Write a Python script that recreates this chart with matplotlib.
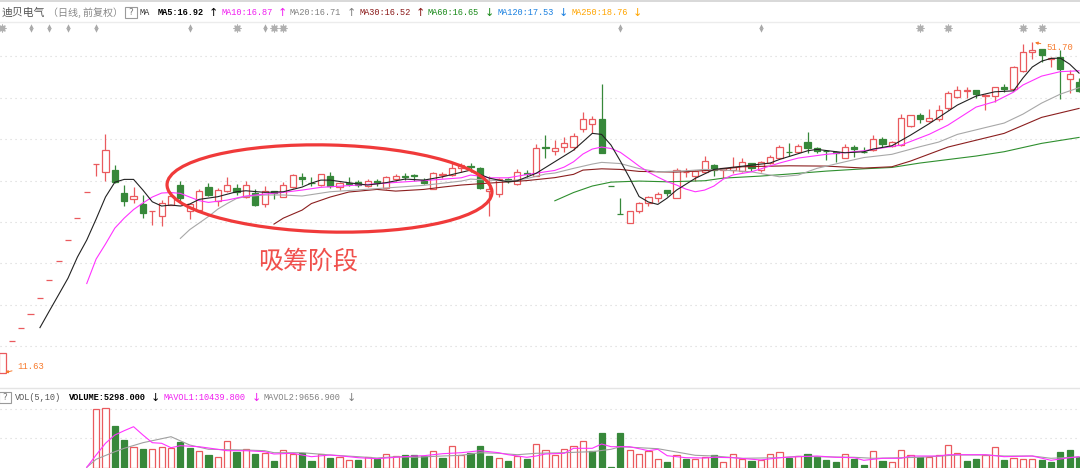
import numpy as np
import matplotlib
matplotlib.use('Agg')
from matplotlib import pyplot as plt
from matplotlib.patches import Ellipse, Rectangle
from matplotlib.transforms import blended_transform_factory

# Daily prices, first day on the left
opens = [11.63, 13.45, 14.27, 15.20, 16.31, 17.66, 19.24, 21.18, 23.42, 26.26,
         29.79, 28.74, 28.99, 26.18, 25.44, 24.88, 24.10, 23.57, 24.80, 27.10,
         24.13, 24.21, 26.89, 25.21, 26.45, 26.77, 25.67, 26.14, 24.91, 26.38,
         25.75, 26.86, 28.13, 27.44, 27.10, 28.30, 26.93, 27.34, 27.54, 27.02,
         27.63, 26.74, 27.92, 28.22, 28.43, 27.75, 26.69, 28.39, 28.35, 29.30,
         29.63, 29.26, 26.38, 26.06, 27.92, 27.26, 28.61, 28.30, 32.17, 31.59,
         32.21, 32.28, 34.92, 35.72, 36.54, 27.00, 23.80, 22.86, 24.13, 24.99,
         25.56, 26.49, 25.63, 28.77, 28.30, 28.74, 29.70, 29.03, 29.03, 28.94,
         29.93, 29.03, 29.93, 30.61, 31.50, 31.54, 32.89, 32.02, 31.63, 31.45,
         30.69, 32.26, 31.50, 31.77, 33.43, 32.40, 32.50, 35.40, 37.15, 36.21,
         36.49, 38.44, 40.40, 41.39, 41.58, 40.48, 40.59, 42.15, 41.76, 45.30,
         49.41, 50.01, 47.98, 48.38, 43.75, 43.11]
closes = [12.73, 13.45, 14.27, 15.20, 16.31, 17.66, 19.24, 21.18, 23.42, 26.26,
          29.79, 31.73, 27.47, 25.28, 25.86, 23.95, 24.10, 25.06, 25.83, 25.59,
          24.91, 26.45, 25.95, 26.57, 27.10, 26.26, 27.17, 24.80, 26.38, 26.14,
          27.10, 28.43, 27.88, 27.38, 28.52, 27.05, 27.42, 27.28, 27.14, 27.59,
          27.42, 28.17, 28.30, 28.17, 28.22, 27.42, 28.61, 28.48, 29.34, 29.66,
          29.43, 26.74, 26.65, 27.88, 27.67, 28.74, 28.55, 32.02, 32.10, 32.11,
          32.75, 33.89, 36.49, 36.49, 31.31, 26.97, 23.77, 24.16, 25.06, 25.75,
          26.10, 26.21, 29.03, 28.81, 28.94, 30.24, 29.03, 29.26, 29.47, 30.06,
          29.34, 30.14, 30.75, 32.26, 31.44, 32.40, 32.02, 31.67, 31.58, 31.40,
          32.21, 31.96, 31.45, 33.34, 32.60, 32.98, 36.65, 37.15, 36.49, 36.65,
          37.99, 41.03, 41.58, 41.58, 40.90, 40.77, 42.15, 41.88, 46.13, 49.48,
          49.78, 48.69, 48.03, 45.83, 44.69, 41.39]
highs = [12.73, 13.45, 14.27, 15.20, 16.31, 17.66, 19.24, 21.18, 23.42, 26.26,
         29.79, 34.10, 29.70, 27.14, 26.93, 25.95, 24.10, 25.36, 26.30, 27.67,
         24.91, 26.65, 27.34, 26.77, 28.10, 27.22, 27.67, 26.61, 27.02, 26.38,
         27.54, 28.52, 28.68, 28.10, 28.52, 28.74, 27.51, 28.10, 27.75, 27.84,
         27.92, 28.26, 28.48, 28.61, 28.52, 28.04, 28.77, 28.74, 29.93, 29.97,
         30.01, 29.43, 28.26, 28.00, 28.00, 29.12, 29.03, 32.65, 33.99, 33.23,
         33.64, 34.26, 37.76, 37.09, 42.78, 27.00, 25.56, 24.16, 25.14, 25.83,
         26.30, 26.53, 29.26, 29.34, 29.03, 30.93, 29.83, 29.30, 30.75, 30.61,
         29.97, 30.24, 31.07, 32.50, 32.75, 32.65, 34.50, 32.21, 31.77, 31.63,
         32.60, 32.50, 32.17, 33.95, 33.69, 33.08, 37.32, 37.20, 37.59, 38.22,
         38.92, 41.45, 42.46, 42.15, 41.63, 40.90, 42.30, 42.72, 46.40, 51.15,
         51.70, 50.05, 48.32, 49.85, 45.56, 43.95]
lows = [11.63, 13.45, 14.27, 15.20, 16.31, 17.66, 19.24, 21.18, 23.42, 26.26,
        28.30, 27.67, 27.38, 24.69, 24.99, 23.38, 22.66, 22.56, 24.80, 25.10,
        23.31, 24.03, 25.83, 24.72, 26.30, 25.95, 25.59, 24.69, 24.54, 25.51,
        25.71, 26.77, 27.14, 27.02, 27.02, 26.74, 26.53, 27.02, 26.86, 26.86,
        27.05, 26.65, 27.63, 27.75, 27.63, 27.26, 26.65, 28.04, 28.26, 28.81,
        28.81, 26.61, 23.63, 25.75, 27.34, 27.14, 28.10, 28.26, 30.69, 31.07,
        31.45, 31.77, 34.50, 34.26, 31.31, 26.97, 23.77, 22.86, 23.89, 24.72,
        25.17, 25.86, 25.59, 28.17, 27.67, 28.65, 28.30, 27.97, 28.68, 28.84,
        28.94, 28.81, 29.83, 30.51, 30.93, 31.49, 31.31, 31.31, 30.37, 30.14,
        30.65, 30.83, 31.40, 31.63, 32.26, 32.28, 32.35, 35.32, 35.94, 36.13,
        36.26, 38.04, 40.11, 40.11, 40.11, 38.04, 39.50, 41.32, 41.63, 45.16,
        47.88, 47.30, 46.25, 39.98, 41.03, 41.26]

# Moving averages, read at the days where the line bends
ma5_days = [4, 5, 6, 7, 8, 9, 10, 11, 12, 13, 14, 15, 16, 17, 18, 19, 20, 21, 23, 25, 26, 28, 30, 32, 33, 34,
            35, 37, 39, 41, 43, 45, 47, 50, 51, 52, 53, 54, 55, 57, 61, 63, 64, 65, 66, 67, 68, 69, 70, 71, 72,
            74, 76, 82, 83, 86, 87, 90, 92, 93, 95, 97, 99, 102, 104, 106, 108, 109, 110, 111, 112, 113, 114, 115]
ma5 = [14.27, 15.38, 16.56, 17.84, 19.61, 21.18, 23.28, 25.71, 27.49, 27.84, 27.84, 26.53, 25.17, 24.69, 24.80,
       24.69, 24.91, 25.44, 25.75, 26.33, 26.45, 26.26, 26.33, 26.89, 27.38, 27.75, 27.75, 27.42, 27.14, 27.44,
       27.88, 27.75, 28.17, 29.03, 28.48, 28.00, 27.75, 27.54, 27.67, 28.61, 31.77, 34.26, 34.10, 32.50, 30.24,
       28.00, 25.77, 25.14, 24.87, 25.59, 26.53, 27.97, 29.12, 29.97, 30.46, 31.67, 31.87, 31.39, 31.53, 31.92,
       32.40, 33.99, 35.80, 38.92, 40.53, 41.32, 41.50, 43.95, 46.20, 47.44, 48.03, 48.10, 46.80, 44.95]
ma10_days = [9, 10, 11, 12, 13, 14, 15, 16, 17, 18, 19, 20, 21, 22, 24, 26, 28, 30, 32, 34, 37, 41, 45, 49, 50,
             51, 52, 54, 56, 59, 60, 61, 62, 63, 64, 65, 66, 67, 68, 69, 70, 71, 72, 73, 74, 75, 76, 77, 78, 80,
             83, 85, 88, 92, 96, 99, 101, 104, 106, 108, 109, 111, 113, 115]
ma10 = [17.41, 19.44, 20.80, 22.35, 23.38, 24.30, 25.03, 25.71, 26.18, 26.24, 26.14, 25.71, 25.30, 25.10, 25.36,
        25.83, 26.06, 26.26, 26.53, 26.86, 27.07, 27.38, 27.69, 28.04, 28.39, 28.26, 28.04, 28.04, 28.45, 28.99,
        29.43, 30.14, 31.21, 31.92, 32.21, 32.00, 31.45, 30.51, 29.56, 28.77, 28.13, 27.56, 27.14, 26.65, 26.33,
        26.53, 27.02, 27.88, 28.39, 28.81, 29.97, 30.65, 31.17, 31.67, 32.50, 34.12, 35.56, 38.57, 39.53, 41.26,
        42.60, 44.35, 45.25, 45.42]
ma20_days = [19, 20, 21, 22, 23, 24, 25, 26, 28, 30, 32, 35, 40, 45, 49, 50, 52, 54, 56, 58, 59, 61, 63, 64, 66,
             68, 70, 73, 75, 77, 80, 83, 85, 87, 90, 92, 95, 98, 100, 102, 105, 107, 109, 111, 113, 115]
ma20 = [21.34, 22.20, 22.86, 23.55, 24.35, 24.97, 25.54, 25.77, 25.95, 25.95, 25.83, 26.33, 26.71, 27.10, 27.63,
        27.88, 27.75, 27.63, 27.94, 28.52, 28.65, 29.26, 29.83, 30.06, 29.90, 29.23, 28.81, 28.94, 29.12, 29.03,
        28.81, 28.17, 28.39, 29.26, 30.14, 30.72, 31.17, 32.26, 32.94, 34.10, 35.17, 35.89, 37.36, 39.27, 40.89,
        42.10]
ma30_days = [29, 30, 32, 33, 35, 37, 40, 42, 45, 47, 49, 52, 56, 59, 61, 62, 64, 66, 68, 72, 76, 79, 84, 88, 92,
             95, 97, 101, 107, 111, 115]
ma30 = [22.76, 23.38, 24.24, 24.97, 25.71, 26.30, 26.61, 26.41, 26.61, 26.89, 27.14, 27.38, 27.69, 28.06, 28.48,
        29.03, 29.20, 29.12, 28.86, 28.77, 29.03, 29.47, 29.60, 29.56, 29.30, 29.47, 30.24, 32.21, 34.26, 36.82,
        38.34]
ma60_days = [59, 61, 63, 65, 68, 71, 75, 77, 81, 84, 88, 92, 95, 98, 104, 107, 111, 115]
ma60 = [25.28, 26.24, 27.02, 27.50, 27.63, 27.54, 27.67, 28.00, 28.26, 28.52, 28.90, 29.20, 29.38, 29.97, 30.93,
        31.54, 32.75, 33.64]

# Volume in thousands of lots above the bottom edge of the panel, from day 10 on
vol_first_day = 10
volumes = [58.7, 60.0, 42.0, 28.0, 20.7, 19.0, 19.0, 21.3, 20.0, 26.3,
           20.0, 16.7, 13.0, 11.3, 26.7, 16.0, 18.7, 14.0, 15.0, 7.0,
           18.3, 14.0, 15.0, 7.0, 14.0, 9.7, 10.7, 8.0, 8.0, 11.3,
           9.0, 13.7, 12.0, 12.7, 12.7, 12.3, 17.3, 10.3, 21.7, 12.7,
           15.0, 22.3, 12.0, 10.3, 7.0, 12.0, 8.7, 23.7, 18.3, 13.3,
           19.0, 22.3, 26.7, 17.3, 35.0, 1.0, 35.0, 18.3, 13.7, 17.3,
           9.3, 6.0, 13.3, 8.7, 8.7, 11.3, 12.7, 5.7, 13.7, 8.7,
           7.0, 8.0, 13.7, 15.7, 10.0, 12.0, 14.0, 11.0, 8.0, 6.0,
           13.7, 9.3, 3.3, 16.7, 7.0, 5.7, 18.3, 12.7, 10.7, 10.7,
           12.7, 22.7, 14.7, 7.0, 8.7, 13.0, 20.7, 8.0, 9.7, 8.7,
           8.7, 8.0, 6.0, 15.7, 18.3, 10.7]
vol_down_days = [12, 13, 15, 19, 20, 22, 25, 27, 29, 32, 33, 35, 38, 40, 43, 44, 45, 47, 50, 51, 52, 54, 56, 63,
                 64, 65, 66, 71, 73, 76, 80, 84, 86, 87, 88, 89, 91, 92, 94, 98, 103, 104, 107, 111, 112, 113,
                 114, 115]
mavol1_days = [9, 10, 11, 12, 13, 14, 15, 16, 17, 18, 19, 21, 23, 24, 26, 28, 29, 31, 33, 35, 37, 38, 40, 42, 44,
               45, 47, 49, 51, 53, 54, 56, 57, 58, 60, 61, 63, 64, 65, 67, 69, 70, 71, 73, 75, 76, 78, 81, 83, 85,
               87, 89, 91, 92, 94, 96, 97, 100, 101, 104, 105, 107, 110, 112, 114, 115]
mavol1 = [0.7, 13.0, 24.7, 33.0, 37.3, 41.3, 33.0, 25.3, 24.7, 20.3, 22.3, 21.3, 18.7, 17.3, 17.3, 16.3, 14.0,
          14.7, 11.3, 13.0, 11.3, 10.3, 9.3, 10.7, 12.0, 12.3, 14.3, 15.3, 17.3, 15.3, 13.3, 10.7, 12.0, 14.0,
          14.7, 19.7, 19.7, 24.0, 21.3, 21.3, 17.3, 18.7, 12.3, 10.3, 10.0, 10.7, 10.3, 8.0, 10.3, 11.3, 12.0,
          10.7, 10.3, 7.7, 9.7, 9.7, 12.0, 12.0, 13.3, 13.3, 13.3, 11.3, 12.0, 7.7, 10.3, 11.3]
mavol2_days = [9, 10, 12, 13, 15, 18, 20, 22, 26, 28, 29, 32, 35, 38, 40, 42, 44, 47, 49, 51, 53, 55, 57, 60, 62,
               63, 65, 66, 68, 70, 72, 74, 76, 79, 83, 85, 87, 91, 93, 98, 102, 105, 107, 110, 112, 115]
mavol2 = [0.7, 8.7, 16.3, 19.7, 25.3, 31.3, 23.0, 18.7, 18.0, 17.3, 15.3, 15.3, 13.0, 11.3, 10.0, 11.3, 10.7, 12.0,
          12.7, 15.3, 14.7, 13.3, 14.7, 15.3, 16.0, 16.3, 18.7, 21.3, 20.3, 19.3, 16.0, 12.7, 12.0, 9.7, 10.3, 11.7,
          11.3, 10.7, 9.7, 10.7, 13.0, 13.0, 12.0, 12.0, 9.7, 11.0]

# Info marks in the row under the header
star_days = [0, 25, 29, 30, 98, 101, 109, 111]
mine_days = [3, 5, 7, 10, 20, 28, 66, 81]

grid_prices = [13.14, 15.83, 19.08, 23.0, 27.7, 33.4, 40.2, 48.5]
vol_grid = [29.7, 58.7]

title = '迪贝电气'
subtitle = '（日线, 前复权）'
ma_items = [('MA5:16.92', '↑', 158, 213, '#000000'),
            ('MA10:16.87', '↑', 221, 282, '#f01df0'),
            ('MA20:16.71', '↑', 290, 351, '#808080'),
            ('MA30:16.52', '↑', 360, 420, '#8b1a1a'),
            ('MA60:16.65', '↓', 428, 489, '#1a8a1a'),
            ('MA120:17.53', '↓', 497, 563, '#1a80e0'),
            ('MA250:18.76', '↓', 571, 637, '#ffa500')]
vol_items = [('VOLUME:5298.000', '↓', 69, 155, '#000000'),
             ('MAVOL1:10439.800', '↓', 164, 256, '#f01df0'),
             ('MAVOL2:9656.900', '↓', 264, 351, '#808080')]

RED = '#ea5a5e'
GREEN = '#37883a'
ORANGE = '#f77a2c'
CJK = ['Noto Sans CJK SC', 'DejaVu Sans']
MONO = 'Liberation Mono'


def draw_candles(ax):
    for day in range(len(opens)):
        up = closes[day] >= opens[day]
        color = RED if up else GREEN
        ax.vlines(day, lows[day], highs[day], color=color, lw=0.9, zorder=2)
        bottom = min(opens[day], closes[day])
        height = abs(closes[day] - opens[day])
        ax.bar(day, height, 0.66, bottom=bottom, facecolor='white' if up else GREEN,
               edgecolor=color, linewidth=0.9, zorder=3)


def draw_panel_grid(ax, values):
    for value in values:
        ax.axhline(value, color='#d6d6d6', lw=0.8, dashes=(1, 3.5), zorder=1)


def draw_header(overlay, items, y):
    for label, arrow, x_text, x_arrow, color in items:
        overlay.text(x_text, y, label, family=MONO, fontsize=6.2, fontweight='bold' if color == '#000000' else 'normal',
                     color=color, va='center', ha='left')
        overlay.text(x_arrow, y, arrow, fontsize=8, color=color, va='center', ha='center')


def help_box(overlay, x, y):
    overlay.add_patch(Rectangle((x, y), 12, 11, facecolor='white', edgecolor='#9a9a9a', lw=0.8))
    overlay.text(x + 6, y + 5.5, '?', fontsize=6.5, color='#777777', ha='center', va='center')


def main():
    fig = plt.figure(figsize=(10.8, 4.68), dpi=100)
    fig.patch.set_facecolor('white')

    # Price panel, the axis is logarithmic
    ax = fig.add_axes([0, 81 / 468, 1, 365 / 468])
    ax.set_yscale('log')
    ax.set_xlim(-0.267, 115.1)
    ax.set_ylim(10.92, 56.6)
    ax.axis('off')
    draw_panel_grid(ax, grid_prices)
    draw_candles(ax)

    ax.plot(ma60_days, ma60, color='#2f8f2f', lw=0.8, zorder=4)
    ax.plot(ma30_days, ma30, color='#8b1f1f', lw=0.8, zorder=5)
    ax.plot(ma20_days, ma20, color='#a8a8a8', lw=0.8, zorder=6)
    ax.plot(ma10_days, ma10, color='#ff33ff', lw=0.8, zorder=7)
    ax.plot(ma5_days, ma5, color='#222222', lw=0.8, zorder=8)

    ax.annotate('11.63', xy=(0, min(lows)), xytext=(15, 2), textcoords='offset pixels', family=MONO, fontsize=6.4,
                color=ORANGE, va='bottom', arrowprops=dict(arrowstyle='-|>', color=ORANGE, lw=0.7, mutation_scale=4))
    ax.annotate('51.70', xy=(110, max(highs)), xytext=(14, -5), textcoords='offset pixels', family=MONO, fontsize=6.4,
                color=ORANGE, va='center', arrowprops=dict(arrowstyle='-|>', color=ORANGE, lw=0.7, mutation_scale=4))

    marks = blended_transform_factory(ax.transData, ax.transAxes)
    mark_y = (387 - 28) / 365
    ax.scatter(star_days, [mark_y] * len(star_days), transform=marks, marker=(8, 2, 0), s=24, color='#b0b0b0', lw=0.9)
    ax.scatter(mine_days, [mark_y + 0.006] * len(mine_days), transform=marks, marker='^', s=10, color='#a8a8a8', lw=0)
    ax.scatter(mine_days, [mark_y - 0.006] * len(mine_days), transform=marks, marker='v', s=10, color='#a8a8a8', lw=0)

    # Volume panel
    ax_vol = fig.add_axes([0, 0, 1, 63 / 468])
    ax_vol.set_xlim(-0.267, 115.1)
    ax_vol.set_ylim(0, 63)
    ax_vol.axis('off')
    draw_panel_grid(ax_vol, vol_grid)
    vol_x = np.arange(vol_first_day, vol_first_day + len(volumes))
    for day, vol in zip(vol_x, volumes):
        down = day in vol_down_days
        ax_vol.bar(day, vol, 0.66, facecolor=GREEN if down else 'white',
                   edgecolor=GREEN if down else RED, linewidth=0.9, zorder=2)
    ax_vol.plot(mavol2_days, mavol2, color='#a0a0a0', lw=0.8, zorder=3)
    ax_vol.plot(mavol1_days, mavol1, color='#ff33ff', lw=0.8, zorder=4)

    # Header rows and hand drawn mark, placed in image pixels
    overlay = fig.add_axes([0, 0, 1, 1], facecolor='none')
    overlay.set_xlim(0, 1080)
    overlay.set_ylim(468, 0)
    overlay.axis('off')
    overlay.add_patch(Rectangle((0, 0), 1080, 2, facecolor='#d9d9d9', edgecolor='none'))
    overlay.plot([0, 1080], [21.5, 21.5], color='#ececec', lw=1)
    overlay.plot([0, 1080], [387.5, 387.5], color='#e4e4e4', lw=1)

    overlay.text(2, 12.5, title, family=CJK, fontsize=7.8, color='#555555', va='center')
    overlay.text(48, 12.5, subtitle, family=CJK, fontsize=7.2, color='#888888', va='center')
    help_box(overlay, 124.5, 7)
    overlay.text(140, 12.5, 'MA', family=MONO, fontsize=6.2, color='#333333', va='center')
    draw_header(overlay, ma_items, 12.5)

    help_box(overlay, -1, 392)
    overlay.text(15, 397.5, 'VOL(5,10)', family=MONO, fontsize=6.2, color='#555555', va='center')
    draw_header(overlay, vol_items, 397.5)

    overlay.add_patch(Ellipse((329.5, 188.5), 325, 87, angle=1.4, fill=False, edgecolor='#f03a3a', lw=2.3))
    overlay.text(308, 262, '吸筹阶段', family=CJK, fontsize=18, color='#f0504c', ha='center', va='center')

    plt.savefig('out.png', dpi=100)


if __name__ == '__main__':
    main()
